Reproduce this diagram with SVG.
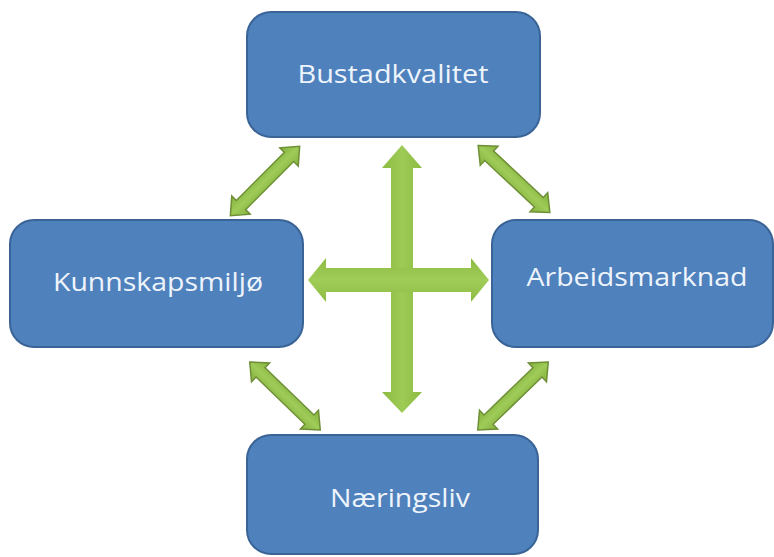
<svg xmlns="http://www.w3.org/2000/svg" width="774" height="557" viewBox="0 0 774 557">
<style>
.box{fill:#4f81bd;stroke:#3a6396;stroke-width:2}
.lbl{font-family:"Open Sans","Liberation Sans",sans-serif;font-size:26px;fill:#eef4fb;text-anchor:middle}
.diag{fill:url(#gd);stroke:#6e8f36;stroke-width:1.5;stroke-linejoin:miter}
.big{stroke:none}
</style>
<defs>
<linearGradient id="gd" x1="0" y1="0" x2="0" y2="1">
<stop offset="0" stop-color="#84b23d"/>
<stop offset="0.5" stop-color="#9fcb58"/>
<stop offset="1" stop-color="#84b23d"/>
</linearGradient>
<linearGradient id="gv" x1="0" y1="0" x2="1" y2="0">
<stop offset="0" stop-color="#8cbb43"/>
<stop offset="0.5" stop-color="#9dcb55"/>
<stop offset="1" stop-color="#8cbb43"/>
</linearGradient>
<linearGradient id="gh" x1="0" y1="0" x2="0" y2="1">
<stop offset="0" stop-color="#8cbb43"/>
<stop offset="0.5" stop-color="#a0cd58"/>
<stop offset="1" stop-color="#8cbb43"/>
</linearGradient>
<path id="da" d="M -49 0 L -34 -13 L -34 -6.5 L 34 -6.5 L 34 -13 L 49 0 L 34 13 L 34 6.5 L -34 6.5 L -34 13 Z"/>
</defs>

<g id="connectors">
<g id="cross">
<path class="big" fill="url(#gv)" d="M 402 145 L 422 168 L 413 168 L 413 392 L 422 392 L 402 413 L 382 392 L 391 392 L 391 168 L 382 168 Z"/>
<path class="big" fill="url(#gh)" d="M 308 280 L 326 258 L 326 268 L 471 268 L 471 258 L 489 280 L 471 302 L 471 292 L 326 292 L 326 302 Z"/>
</g>
<use href="#da" class="diag" transform="translate(265 181) rotate(-45)"/>
<use href="#da" class="diag" transform="translate(514 179) rotate(43)"/>
<use href="#da" class="diag" transform="translate(285 396) rotate(44)"/>
<use href="#da" class="diag" transform="translate(513 396) rotate(-44)"/>
</g>

<g id="bustadkvalitet">
<rect class="box" x="247" y="12" width="293" height="125" rx="24"/>
<text class="lbl" x="393" y="83" textLength="191" lengthAdjust="spacingAndGlyphs">Bustadkvalitet</text>
</g>
<g id="kunnskapsmiljo">
<rect class="box" x="10" y="220" width="293" height="127" rx="24"/>
<text class="lbl" x="158" y="291" textLength="210" lengthAdjust="spacingAndGlyphs">Kunnskapsmiljø</text>
</g>
<g id="arbeidsmarknad">
<rect class="box" x="492" y="220" width="281" height="127" rx="24"/>
<text class="lbl" x="637" y="286" textLength="221" lengthAdjust="spacingAndGlyphs">Arbeidsmarknad</text>
</g>
<g id="naeringsliv">
<rect class="box" x="247" y="435" width="291" height="119" rx="24"/>
<text class="lbl" x="400" y="507" textLength="140" lengthAdjust="spacingAndGlyphs">Næringsliv</text>
</g>
</svg>
